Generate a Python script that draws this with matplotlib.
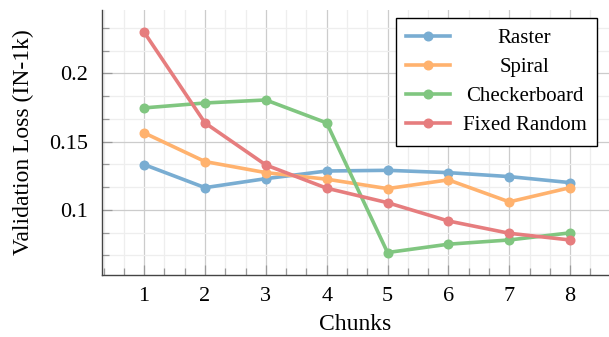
import matplotlib
matplotlib.use("Agg")
import matplotlib.pyplot as plt
from matplotlib.ticker import MultipleLocator, AutoMinorLocator

plt.rcParams['font.family'] = ['Liberation Serif', 'DejaVu Serif']
plt.rcParams['font.size'] = 16

chunks = [1, 2, 3, 4, 5, 6, 7, 8]
raster = [0.1332, 0.1163, 0.1229, 0.1285, 0.1290, 0.1273, 0.1244, 0.1200]
spiral = [0.1564, 0.1354, 0.1273, 0.1225, 0.1156, 0.1220, 0.1059, 0.1163]
checkerboard = [0.1747, 0.1783, 0.1805, 0.1637, 0.0688, 0.0749, 0.0780, 0.0832]
fixed_random = [0.2301, 0.1637, 0.1329, 0.1159, 0.1053, 0.0919, 0.0829, 0.0780]

names = ['Raster', 'Spiral', 'Checkerboard', 'Fixed Random']
series = [raster, spiral, checkerboard, fixed_random]
# tab colours at 60% opacity on white
colors = ['#79add2', '#ffb26e', '#80c680', '#e67d7e']

fig = plt.figure(figsize=(6.09, 3.37), dpi=100)
ax = fig.add_axes([0.1675, 0.185, 0.8325, 0.785])

for vals, name, c in zip(series, names, colors):
    ax.plot(chunks, vals, color=c, lw=2.6, marker='o', ms=6.2, label=name, zorder=3)

ax.set_xlim(0.307, 8.64)
ax.set_ylim(0.0526, 0.2463)
ax.xaxis.set_major_locator(MultipleLocator(1))
ax.xaxis.set_minor_locator(AutoMinorLocator(3))
ax.yaxis.set_major_locator(MultipleLocator(0.05))
ax.yaxis.set_minor_locator(AutoMinorLocator(3))
ax.set_yticks([0.1, 0.15, 0.2])
ax.set_yticklabels(['0.1', '0.15', '0.2'])

ax.grid(which='major', color='#cccccc', lw=0.9, zorder=0)
ax.grid(which='minor', color='#eeeeee', lw=0.9, zorder=0)
ax.set_axisbelow(True)

for s in ['top', 'right']:
    ax.spines[s].set_visible(False)
for s in ['left', 'bottom']:
    ax.spines[s].set_color('#444444')
    ax.spines[s].set_linewidth(1.0)

ax.tick_params(which='major', direction='in', length=7.5, color='#999999', width=0.9)
ax.tick_params(which='minor', direction='in', length=4.8, color='#999999', width=0.9)
ax.tick_params(axis='x', which='major', pad=9, labelsize=16)
ax.tick_params(axis='y', which='major', pad=10, labelsize=16)

ax.set_xlabel('Chunks', fontsize=17, labelpad=6)
ax.set_ylabel('Validation Loss (IN-1k)', fontsize=17, labelpad=11)

leg = ax.legend(loc='upper right', bbox_to_anchor=(0.976, 0.969), fancybox=False,
                edgecolor='black', framealpha=1, handlelength=2.1, labelspacing=0.45,
                borderpad=0.5, handletextpad=0.6, borderaxespad=0, fontsize=15)
leg.get_frame().set_linewidth(1.0)

# centre the legend labels like the original
fig.canvas.draw()
r = fig.canvas.get_renderer()
widths = [t.get_window_extent(r).width for t in leg.get_texts()]
wmax = max(widths)
for t, w in zip(leg.get_texts(), widths):
    t.set_position(((wmax - w) / 2, 0))

fig.savefig('out.png', dpi=100)
